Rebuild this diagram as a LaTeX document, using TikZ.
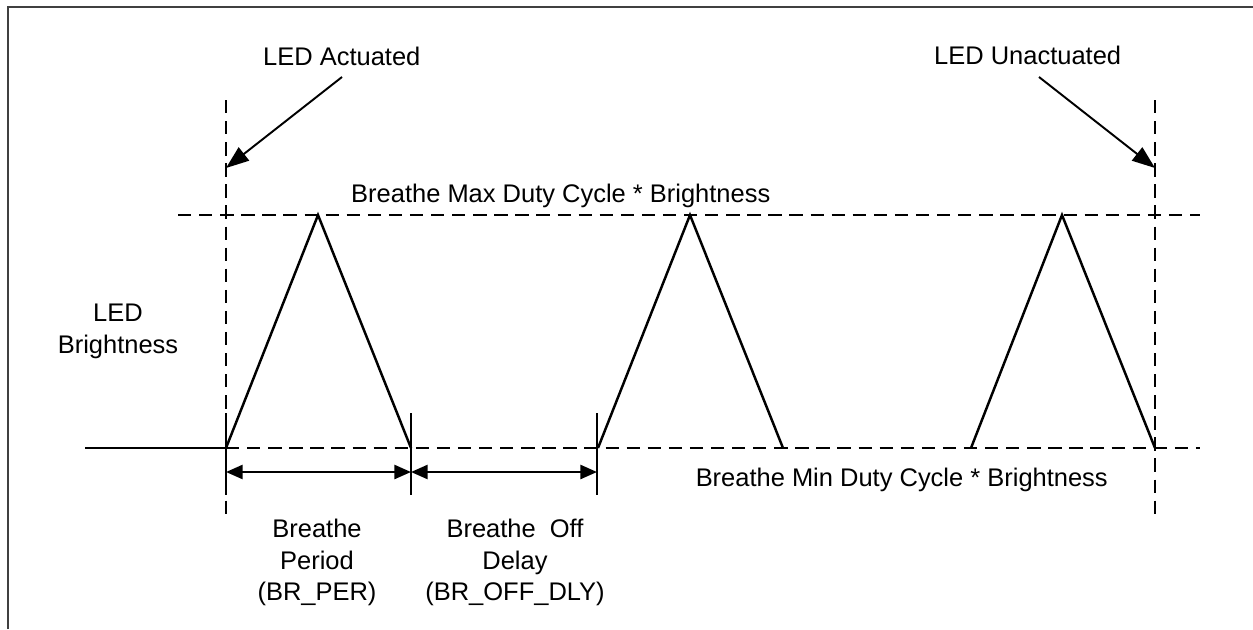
\documentclass[tikz,border=0pt]{standalone}
\usepackage{fontspec}
\setmainfont{Liberation Sans}
\usetikzlibrary{arrows.meta,positioning}

\begin{document}
\begin{tikzpicture}[x=0.02cm,y=-0.02cm,line width=1.4pt,
    lbl/.style={font=\fontsize{14.5}{18}\selectfont,inner sep=0pt},
    guide/.style={dash pattern=on 7.6pt off 4.4pt},
    wave/.style={line join=miter},
    ptr/.style={-{Triangle[length=13pt,width=9.5pt]},line width=1.1pt},
    dim/.style={{Triangle[length=9.5pt,width=8pt]}-{Triangle[length=9.5pt,width=8pt]}}]

    \useasboundingbox (0,0) rectangle (1253,629);
    \draw[black!75,line width=1.3pt] (8,629) -- (8,7) -- (1253,7);

    % labels
    \node[lbl,anchor=base west] (actuated) at (262,65) {LED Actuated};
    \node[lbl,anchor=base west] (unactuated) at (933,64) {LED Unactuated};
    \node[lbl,anchor=base west] (maxlbl) at (350,202) {Breathe Max Duty Cycle * Brightness};
    \node[lbl,anchor=base east] (minlbl) at (1109,486) {Breathe Min Duty Cycle * Brightness};
    \node[lbl,anchor=north,align=center] (ledbr) at (118,303) {LED\\Brightness};
    \node[lbl,anchor=north,align=center] (perlbl) at (317,518) {Breathe\\Period\\(BR\_PER)};
    \node[lbl,anchor=north,align=center] (dlylbl) at (515,518) {Breathe~~Off\\Delay\\(BR\_OFF\_DLY)};

    % level and event lines
    \coordinate (on) at (226,448);
    \coordinate (off) at (1155,448);
    \draw[guide] (178,215) -- (1200,215);
    \draw (85,448) -- (on);
    \draw[guide] (on) -- (1200,448);
    \draw[guide] (226,100) -- (226,515);
    \draw[guide] (1155,100) -- (1155,515);

    % breathe ramps
    \draw[wave] (on) -- (318,215) -- (411,448);
    \draw[wave] (598,448) -- (690,215) -- (783,448);
    \draw[wave] (971,448) -- (1062,215) -- (off);

    % period marks
    \foreach \name/\x in {t0/226,t1/411,t2/597}{
        \coordinate (\name) at (\x,472);
        \draw (\x,413) -- (\x,495);
    }
    \draw[dim] (t0) -- (t1);
    \draw[dim] (t1) -- (t2);

    % event pointers
    \coordinate (actfrom) at (342,77);
    \coordinate (actto) at (226,168);
    \coordinate (unactfrom) at (1039,77);
    \coordinate (unactto) at (1155,168);
    \draw[ptr] (actfrom) -- (actto);
    \draw[ptr] (unactfrom) -- (unactto);

\end{tikzpicture}
\end{document}
